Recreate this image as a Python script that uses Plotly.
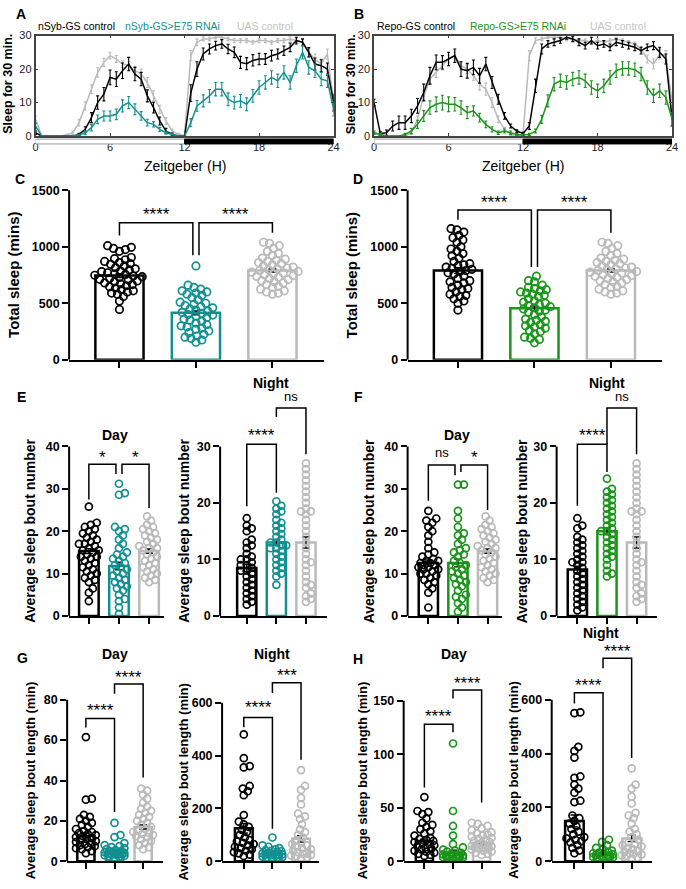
import plotly.graph_objects as go

W, H = 686, 889
FONT = "Liberation Sans, Arial, sans-serif"
C_CTRL = "#000000"
C_NSYB = "#12908f"
C_REPO = "#1a941a"
C_UAS = "#bababa"
C_UAS_TXT = "#c4c4c4"

# ---------------- sleep profiles (30-min bins, ZT 0..24) ----------------
zt_bins = [i * 0.5 for i in range(49)]
zt_ticks = [0, 6, 12, 18, 24]

A_ctrl = [1, 0, 0, 0, 0, 0, 0, 0.5, 2, 5.5, 10, 12.5, 17.5, 17, 19.5, 21.5, 18.5, 17, 12, 8.5, 4.5, 1.5, 0.5, 0, 0,
          12.8, 20, 24.5, 26, 27, 27.5, 26, 25, 22, 21.6, 22.6, 23, 23, 24, 24.5, 25.5, 26.5, 28.5, 28, 25, 21.5, 21, 20, 10]
A_rnai = [3, 0, 0, 0, 0, 0, 0, 0.3, 1, 2.5, 5, 6, 6, 6.5, 9, 10, 8, 6, 4, 3.5, 2, 1, 0.5, 0, 0,
          4, 9, 10.5, 12, 14, 14, 11, 10, 10.5, 9.5, 12, 14.5, 16, 17.5, 16.5, 19, 16, 21, 25, 20.5, 19.5, 17, 16.5, 8]
A_uas = [5, 0, 0, 0, 0, 0.3, 1, 4, 9, 14, 19, 22, 24, 23, 21.5, 21, 19.5, 18.5, 16, 12, 8, 4.5, 1.5, 0.5, 0.2,
         24, 28, 29, 29, 29.5, 29.5, 29, 28.5, 28.5, 28.5, 28, 28.5, 28.5, 28, 28.5, 28.5, 29, 28.5, 28, 25, 23, 21.5, 24.5, 10]
semA_ctrl = [0.5, 0, 0, 0, 0, 0, 0, 0.3, 0.8, 1.5, 2.0, 2.0, 2.2, 2.2, 2.3, 2.0, 2.0, 2.0, 1.8, 1.6, 1.2, 0.8, 0.4, 0, 0,
             2.5, 2.2, 1.8, 1.5, 1.3, 1.3, 1.4, 1.6, 1.8, 1.8, 1.7, 1.7, 1.6, 1.6, 1.5, 1.4, 1.3, 1.0, 1.0, 1.4, 1.8, 1.8, 1.8, 2.5]
semA_rnai = [0.8, 0, 0, 0, 0, 0, 0, 0.2, 0.6, 1.0, 1.3, 1.5, 1.5, 1.6, 1.8, 1.8, 1.6, 1.3, 1.0, 0.8, 0.6, 0.4, 0.2, 0, 0,
             1.2, 1.6, 1.8, 1.9, 2.0, 2.0, 1.9, 1.9, 1.9, 1.9, 1.9, 2.0, 2.0, 2.0, 2.0, 2.0, 2.0, 2.0, 2.0, 2.0, 2.0, 2.0, 2.0, 2.0]
semA_uas = [1.0, 0, 0, 0, 0, 0.2, 0.5, 1.0, 1.2, 1.3, 1.4, 1.2, 1.0, 1.0, 1.0, 1.2, 1.3, 1.5, 1.5, 1.5, 1.2, 1.0, 0.6, 0.3, 0.1,
            1.5, 1.0, 0.6, 0.5, 0.5, 0.5, 0.5, 0.6, 0.6, 0.6, 0.6, 0.6, 0.6, 0.6, 0.6, 0.6, 0.6, 0.6, 0.8, 1.2, 1.5, 1.5, 1.5, 2.0]

B_ctrl = [10, 0.8, 1, 3, 4, 4, 6, 9, 13, 18, 22, 22, 23, 24, 20, 19.5, 20.5, 18, 21.5, 16, 11, 6, 3, 1.5, 0.8,
          3, 15, 26, 27.5, 28, 28.5, 29.5, 29, 28, 27, 28.5, 27, 27.5, 26.5, 28, 27.5, 27, 26.5, 25.5, 26.5, 27, 25, 23, 5]
B_rnai = [1, 0.5, 0, 0, 0, 0.5, 1.5, 3.5, 6, 8.5, 9.5, 10, 9.5, 9.5, 8.5, 7, 7.5, 5.5, 3.5, 2, 1, 1.5, 1, 0.5, 0.3,
          0.5, 1.5, 5, 10.5, 15.5, 16.5, 16, 17, 17.5, 16.5, 14.5, 13.5, 15, 17.5, 19.5, 20.2, 20.2, 19.8, 18.5, 14.5, 12, 13.5, 11.5, 5]
B_uas = [1, 0, 0, 0, 0, 0, 1, 5, 12, 17, 19, 21, 23, 24, 21, 20, 18, 15.5, 14, 10, 5, 2, 0.5, 0, 0.5,
         24, 28.5, 29, 29.5, 29.5, 29.5, 29, 29, 28.5, 28.5, 28, 28.5, 28, 28.5, 29, 28.5, 28, 27.5, 26, 23, 21.5, 24.5, 24, 10]
semB_ctrl = [1.0, 0.5, 0.8, 1.5, 2.0, 2.0, 2.0, 2.2, 2.5, 2.5, 2.2, 2.0, 2.0, 2.0, 2.2, 2.2, 2.2, 2.2, 2.0, 1.8, 1.5, 1.0, 0.6, 0.4, 0.3,
             1.0, 2.0, 1.5, 1.0, 1.0, 0.8, 0.6, 0.8, 1.0, 1.0, 1.0, 1.0, 1.0, 1.0, 1.0, 1.0, 1.0, 1.0, 1.0, 1.0, 1.2, 1.5, 1.5, 2.0]
semB_rnai = [0.5, 0.3, 0, 0, 0, 0.3, 0.8, 1.2, 1.6, 2.0, 2.2, 2.2, 2.2, 2.0, 2.0, 1.8, 1.5, 1.3, 1.0, 0.8, 0.5, 0.6, 0.5, 0.3, 0.2,
             0.3, 0.6, 1.2, 1.8, 2.0, 2.0, 2.0, 2.0, 2.0, 2.0, 2.0, 2.0, 2.0, 2.0, 2.0, 2.0, 2.0, 2.0, 2.0, 2.0, 2.0, 2.0, 2.0, 2.0]
semB_uas = [0.5, 0, 0, 0, 0, 0, 0.5, 1.0, 1.3, 1.5, 1.5, 1.3, 1.2, 1.0, 1.2, 1.3, 1.5, 1.8, 1.8, 1.5, 1.0, 0.6, 0.3, 0, 0.2,
            1.5, 0.8, 0.5, 0.4, 0.4, 0.4, 0.5, 0.5, 0.5, 0.5, 0.5, 0.5, 0.5, 0.5, 0.5, 0.5, 0.5, 0.6, 0.8, 1.2, 1.5, 1.5, 1.5, 2.0]

# ---------------- per-fly values ----------------
groups = ["control", "E75 RNAi", "UAS control"]

tot_nsyb_ctrl = [1010, 995, 985, 975, 960, 905, 895, 885, 870, 860, 850, 845, 830, 815, 805, 795, 785, 780, 770, 760, 755, 748,
                 742, 735, 728, 720, 712, 705, 698, 690, 680, 672, 665, 655, 645, 635, 620, 610, 600, 590, 580, 560, 520, 445]
tot_nsyb_rnai = [830, 660, 640, 625, 610, 600, 590, 580, 570, 550, 530, 510, 500, 490, 480, 470, 460, 450, 440, 430, 420, 410,
                 400, 395, 385, 375, 360, 350, 340, 325, 310, 300, 290, 280, 270, 255, 240, 225, 210, 200, 190, 175, 155]
tot_uas = [1040, 1030, 1010, 985, 960, 940, 925, 900, 890, 880, 870, 860, 850, 840, 830, 820, 812, 805, 798, 790, 782,
           775, 768, 760, 752, 745, 738, 730, 720, 710, 700, 690, 680, 665, 650, 640, 625, 610, 600, 590, 580]
tot_repo_ctrl = [1160, 1150, 1130, 1100, 1080, 1060, 1040, 1000, 980, 960, 940, 920, 900, 870, 850, 840, 830, 820, 810, 800,
                 790, 780, 770, 760, 740, 720, 700, 690, 680, 660, 640, 630, 620, 600, 580, 570, 560, 540, 520, 500, 440]
tot_repo_rnai = [740, 700, 690, 660, 640, 630, 620, 610, 600, 590, 580, 570, 560, 540, 520, 510, 500, 490, 480, 470, 460,
                 450, 440, 430, 420, 400, 380, 360, 350, 340, 330, 310, 300, 290, 280, 260, 250, 230, 200, 190, 180, 150]

daynum_nsyb_ctrl = [25.8, 22, 21.5, 21, 20.5, 20, 19.5, 19, 18.5, 18, 17.5, 17, 17, 16.5, 16, 15.5, 15.5, 15, 14.5, 14, 14,
                    13.5, 13, 12.5, 12, 11.5, 11, 10.5, 10, 9.5, 9, 8.5, 8, 6.5, 5.5, 3.5]
daynum_nsyb_rnai = [31.2, 29, 28.6, 21, 20.5, 20, 19, 18, 17, 16, 15, 14.5, 14, 13.5, 13, 12.5, 12, 11.5, 11, 10.5, 10,
                    9.5, 9, 8.5, 8, 7.5, 7, 6.5, 6, 5, 4, 3.5, 2, 0.5]
daynum_uas = [23.5, 22.5, 21.5, 21, 20.5, 20, 19.5, 19, 18.5, 18, 17.5, 17, 16.5, 16, 16, 15.5, 15, 14.5, 14, 13.5, 13,
              12.5, 12, 11.5, 11, 10.5, 10, 9.5, 9, 8.5, 8]
daynum_repo_ctrl = [24.8, 23, 22.5, 22, 21, 20, 19, 17.5, 16, 15, 14.5, 14, 13.5, 13, 13, 12.5, 12.5, 12, 12, 11.5, 11.5,
                    11, 11, 10.5, 10, 10, 9.5, 9, 8.5, 8, 7.5, 6.5, 5.5, 2]
daynum_repo_rnai = [31, 31, 24.8, 23, 21, 19.5, 19, 18, 17, 16, 15.5, 15, 14.5, 14, 13, 12.5, 12, 11.5, 11, 10.5, 10,
                    9.5, 9, 8.5, 8, 7.5, 7, 6, 5, 4.5, 4, 3, 2, 1]

nightnum_nsyb_ctrl = [17.3, 16, 15.5, 15, 13.5, 13, 12.5, 12, 11, 10.5, 10, 10, 9.5, 9, 9, 8.5, 8, 8, 7.5, 7, 6.5, 6,
                      5.5, 5, 4.5, 4, 3.5, 3, 2.5, 2]
nightnum_nsyb_rnai = [20.3, 19.5, 19, 18.5, 18, 17, 16.5, 16, 15.5, 15, 14.5, 14, 13.5, 13, 13, 12.5, 12.5, 12, 12, 11.5,
                      11, 10.5, 10, 9.5, 9, 8.5, 8, 7.5, 7, 5.5]
nightnum_uas = [27, 26, 25, 24, 23, 22, 21, 20, 19, 18.5, 18.5, 18, 17, 16, 15, 14, 13, 12, 11, 10, 9.5, 9, 8, 7, 6,
                5.5, 5, 4, 3.5, 3, 2.5]
nightnum_repo_ctrl = [17.3, 16, 15.5, 14, 13.5, 13, 12.5, 12, 11.5, 11, 10.5, 10, 9.5, 9.5, 9, 8.5, 8, 7.5, 7, 6.5, 6,
                      5.5, 5, 4.5, 4, 3.5, 3, 2.5, 2, 1.5, 1]
nightnum_repo_rnai = [24.3, 22.5, 22, 21.5, 21, 20.5, 20, 19.5, 19, 18.5, 18, 17.5, 17, 16.5, 16, 15.5, 15, 15, 14.5, 14,
                      13.5, 13, 12.5, 12, 11.5, 11, 10.5, 10, 9, 8, 7.5, 7]

daylen_nsyb_ctrl = [61.5, 31, 30.5, 23, 22, 21, 20, 19, 18, 17, 16, 15, 14.5, 14, 13.5, 13, 12.5, 12, 11.5, 11, 10.5, 10,
                    9.5, 9, 8.5, 8, 7.5, 7, 6.5, 6, 5, 4]
daylen_nsyb_rnai = [19, 13, 12, 9, 8, 7.5, 7, 6.5, 6, 5.5, 5, 5, 4.5, 4.5, 4.2, 4, 4, 3.8, 3.5, 3.5, 3.3, 3, 3, 2.8, 2.5,
                    2.5, 2]
daylen_uas = [36, 35, 33, 31, 29, 27, 26, 25, 24, 23, 22, 21, 20, 19, 18, 17, 16, 15, 14.5, 14, 13.5, 13, 12.5, 12, 11,
              10, 9, 8, 7, 6]
daylen_repo_ctrl = [60, 47, 46, 44, 40, 36, 34, 32, 30, 28, 26, 24, 22, 21, 20, 19, 18, 17, 16, 15, 14, 13, 12, 11, 10,
                    9, 8, 7, 6, 5]
daylen_repo_rnai = [110, 47, 33, 24, 16, 13, 11, 10, 9, 8, 7, 6.5, 6, 5.5, 5.2, 5, 4.8, 4.5, 4, 3.8, 3.5, 3, 2.5, 2]

nightlen_nsyb_ctrl = [480, 390, 360, 355, 285, 275, 265, 250, 175, 150, 140, 130, 120, 110, 100, 90, 80, 75, 70, 65, 60,
                      55, 50, 45, 40, 35, 30, 25, 20]
nightlen_nsyb_rnai = [90, 60, 55, 50, 45, 42, 40, 38, 35, 33, 30, 28, 26, 25, 24, 22, 20, 18, 16, 14, 12, 10]
nightlen_uas = [345, 285, 270, 240, 215, 180, 170, 160, 140, 120, 110, 100, 90, 80, 70, 65, 60, 55, 50, 45, 40, 35, 30,
                28, 25, 22, 20, 15, 10]
nightlen_repo_ctrl = [553, 550, 425, 410, 385, 315, 310, 285, 270, 255, 225, 220, 170, 160, 150, 140, 130, 120, 110, 100,
                      90, 85, 80, 75, 70, 60, 50, 40, 30]
nightlen_repo_rnai = [80, 72, 60, 50, 45, 40, 35, 32, 30, 28, 26, 24, 22, 20, 18, 16, 14, 12, 10, 8]

# group means and SEM shown as bars
mean_C = [745, 415, 790];   sem_C = [18, 18, 14]
mean_D = [790, 455, 790];   sem_D = [25, 20, 14]
mean_Ed = [15.3, 11.8, 15.3]; sem_Ed = [0.6, 0.9, 0.5]
mean_En = [8.5, 13.0, 13.0];  sem_En = [0.6, 0.5, 1.0]
mean_Fd = [12.5, 12.5, 15.3]; sem_Fd = [0.7, 0.9, 0.5]
mean_Fn = [8.2, 15.0, 13.0];  sem_Fn = [0.6, 0.6, 1.0]
mean_Gd = [12.5, 5.0, 17.0];  sem_Gd = [1.5, 0.5, 1.0]
mean_Gn = [125, 30, 85];      sem_Gn = [18, 3, 12]
mean_Hd = [19, 8, 17];        sem_Hd = [2, 2.5, 1]
mean_Hn = [150, 25, 85];      sem_Hn = [22, 3, 12]

# ---------------- helpers ----------------
fig = go.Figure()
layout = {}
shapes = []
annotations = []


def names(n):
    s = "" if n == 1 else str(n)
    return "xaxis" + s, "yaxis" + s, "x" + s, "y" + s


def ann(text, xpx, ypx, size, color="#000", bold=False, angle=0, xanchor="center", yanchor="middle"):
    annotations.append(dict(text=("<b>%s</b>" % text) if bold else text, x=xpx / W, y=1 - ypx / H,
                            xref="paper", yref="paper", showarrow=False, textangle=angle,
                            font=dict(family=FONT, size=size, color=color), xanchor=xanchor, yanchor=yanchor))


def swarm(values, ppu, sp, diam, maxw):
    order = sorted(range(len(values)), key=lambda i: values[i])
    placed = []
    offs = [0.0] * len(values)
    cands = [0]
    for k in range(1, int(maxw) + 1):
        cands += [k, -k]
    for i in order:
        ypx = values[i] * ppu
        best, bestc, bestd = None, 0, -1
        for c in cands:
            md = min([((c - px) ** 2 + (ypx - py) ** 2) ** 0.5 for px, py in placed] or [1e9])
            if md >= diam:
                best = c
                break
            if md > bestd:
                bestd, bestc = md, c
        if best is None:
            best = bestc
        placed.append((best, ypx))
        offs[i] = best / sp
    return offs


# ---------------- A / B profiles ----------------
profiles = [
    dict(n=1, xL=33, xR=335, label="A", lab=(18, 8), ytx=5,
         series=[(A_uas, semA_uas, C_UAS), (A_ctrl, semA_ctrl, C_CTRL), (A_rnai, semA_rnai, C_NSYB)],
         legend=[("nSyb-GS control", 33, C_CTRL), ("nSyb-GS>E75 RNAi", 122, C_NSYB), ("UAS control", 235, C_UAS_TXT)]),
    dict(n=2, xL=376, xR=678, label="B", lab=(361, 8), ytx=352,
         series=[(B_uas, semB_uas, C_UAS), (B_ctrl, semB_ctrl, C_CTRL), (B_rnai, semB_rnai, C_REPO)],
         legend=[("Repo-GS control", 377, C_CTRL), ("Repo-GS>E75 RNAi", 471, C_REPO), ("UAS control", 593, C_UAS_TXT)]),
]
for p in profiles:
    xa, ya, xt, yt = names(p["n"])
    for vals, sem, col in p["series"]:
        fig.add_trace(go.Scatter(x=zt_bins, y=vals, xaxis=xt, yaxis=yt, mode="lines",
                                 line=dict(color=col, width=1.5),
                                 error_y=dict(type="data", array=sem, color=col, thickness=1.1, width=1.5),
                                 showlegend=False, hoverinfo="skip"))
    layout[xa] = dict(domain=[p["xL"] / W, p["xR"] / W], range=[0, 24], anchor=yt, showline=True, mirror="ticks",
                      linecolor="#444", linewidth=1.5, ticks="inside", ticklen=3, tickcolor="#444",
                      tickvals=zt_ticks, tickfont=dict(size=11, family=FONT, color="#222"),
                      ticklabelstandoff=0, showgrid=False, zeroline=False)
    layout[ya] = dict(domain=[1 - 132 / H, 1 - 30 / H], range=[0, 30], anchor=xt, showline=True, mirror="ticks",
                      linecolor="#444", linewidth=1.5, ticks="inside", ticklen=3, tickcolor="#444",
                      tickvals=[0, 10, 20, 30], tickfont=dict(size=11, family=FONT, color="#222"),
                      showgrid=False, zeroline=False)
    # light / dark bar
    shapes.append(dict(type="rect", xref=xt, yref="paper", x0=0, x1=12, y0=1 - 140 / H, y1=1 - 135 / H,
                       fillcolor="white", line=dict(color="#999", width=1)))
    shapes.append(dict(type="rect", xref=xt, yref="paper", x0=12, x1=24, y0=1 - 140 / H, y1=1 - 135 / H,
                       fillcolor="black", line=dict(color="black", width=1)))
    for txt, xpx, col in p["legend"]:
        ann(txt, xpx, 20, 10.5, color=col, xanchor="left")
    ann("Zeitgeber (H)", (p["xL"] + p["xR"]) / 2, 162, 14)
    ann("Sleep for 30 min.", p["ytx"], 79, 12.5, bold=True, angle=-90)
    ann(p["label"], p["lab"][0], p["lab"][1], 14, bold=True)

# ---------------- bar + scatter panels ----------------
S4 = "****"
panels = [
    dict(n=3, xL=67, c0=118, sp=77.5, xR=325, y0=359, tmax=1500, yT=187, yD=180, ticks=[0, 500, 1000, 1500],
         data=[tot_nsyb_ctrl, tot_nsyb_rnai, tot_uas], means=mean_C, sems=sem_C, cols=[C_CTRL, C_NSYB, C_UAS],
         bw=0.63, ms=7.5, ytitle="Total sleep (mins)", ytx=10, yts=15,
         br=[(0, 0.96, 1212, 1099, 924, S4, 0.48, 1317), (1.04, 2, 1212, 924, 1125, S4, 1.52, 1317)]),
    dict(n=4, xL=410, c0=461, sp=77.5, xR=668, y0=359, tmax=1500, yT=187, yD=180, ticks=[0, 500, 1000, 1500],
         data=[tot_repo_ctrl, tot_repo_rnai, tot_uas], means=mean_D, sems=sem_D, cols=[C_CTRL, C_REPO, C_UAS],
         bw=0.63, ms=7.5, ytitle="Total sleep (mins)", ytx=353, yts=15,
         br=[(0, 0.96, 1325, 1238, 820, S4, 0.48, 1430), (1.04, 2, 1325, 820, 1125, S4, 1.52, 1430)]),
    dict(n=5, xL=67, c0=87, sp=30.5, xR=163, y0=619, tmax=40, yT=447, yD=440, ticks=[0, 10, 20, 30, 40],
         data=[daynum_nsyb_ctrl, daynum_nsyb_rnai, daynum_uas], means=mean_Ed, sems=sem_Ed,
         cols=[C_CTRL, C_NSYB, C_UAS], bw=0.65, ms=7, ytitle="Average sleep bout number", ytx=28, yts=14,
         title=("Day", 113, 435),
         br=[(0, 0.9, 35.8, 27.5, 33.5, "*", 0.45, 38.3), (1.1, 2, 35.8, 33.5, 25.5, "*", 1.55, 38.3)]),
    dict(n=6, xL=220, c0=247, sp=30, xR=328, y0=619, tmax=30, yT=447, yD=380, ticks=[0, 10, 20, 30],
         data=[nightnum_nsyb_ctrl, nightnum_nsyb_rnai, nightnum_uas], means=mean_En, sems=sem_En,
         cols=[C_CTRL, C_NSYB, C_UAS], bw=0.65, ms=7, ytitle="Average sleep bout number", ytx=184, yts=14,
         title=("Night", 272, 383),
         br=[(0, 1, 30.4, 19.4, 21.8, S4, 0.5, 32.6), (1, 2, 36.8, 35.2, 28.6, "ns", 1.5, 38.8)]),
    dict(n=7, xL=410, c0=431, sp=30, xR=506, y0=619, tmax=40, yT=447, yD=440, ticks=[0, 10, 20, 30, 40],
         data=[daynum_repo_ctrl, daynum_repo_rnai, daynum_uas], means=mean_Fd, sems=sem_Fd,
         cols=[C_CTRL, C_REPO, C_UAS], bw=0.65, ms=7, ytitle="Average sleep bout number", ytx=371, yts=14,
         title=("Day", 460, 435),
         br=[(0, 0.9, 35.6, 27.2, 33.2, "ns", 0.45, 38.6), (1.1, 2, 35.6, 34, 25, "*", 1.55, 38.3)]),
    dict(n=8, xL=561, c0=582, sp=30, xR=663, y0=619, tmax=30, yT=447, yD=380, ticks=[0, 10, 20, 30],
         data=[nightnum_repo_ctrl, nightnum_repo_rnai, nightnum_uas], means=mean_Fn, sems=sem_Fn,
         cols=[C_CTRL, C_REPO, C_UAS], bw=0.65, ms=7, ytitle="Average sleep bout number", ytx=526, yts=14,
         title=("Night", 612, 383),
         br=[(0, 1, 30.4, 19.5, 25.5, S4, 0.5, 32.6), (1, 2, 36.8, 30.4, 28.6, "ns", 1.5, 38.8)]),
    dict(n=9, xL=65, c0=84, sp=29, xR=162, y0=868, tmax=80, yT=704, yD=670, ticks=[0, 20, 40, 60, 80],
         data=[daylen_nsyb_ctrl, daylen_nsyb_rnai, daylen_uas], means=mean_Gd, sems=sem_Gd,
         cols=[C_CTRL, C_NSYB, C_UAS], bw=0.6, ms=7, ytitle="Average sleep bout length (min)", ytx=28, yts=13,
         title=("Day", 113, 658),
         br=[(0, 1, 70.7, 66.3, 24.4, S4, 0.5, 76.6), (1, 2, 87.8, 83, 41.5, S4, 1.5, 93.2)]),
    dict(n=10, xL=222, c0=244, sp=29, xR=320, y0=868, tmax=600, yT=707, yD=670, ticks=[0, 200, 400, 600],
         data=[nightlen_nsyb_ctrl, nightlen_nsyb_rnai, nightlen_uas], means=mean_Gn, sems=sem_Gn,
         cols=[C_CTRL, C_NSYB, C_UAS], bw=0.62, ms=7, ytitle="Average sleep bout length (min)", ytx=183, yts=13,
         title=("Night", 273, 658),
         br=[(0, 1, 544, 507, 123, S4, 0.5, 596), (1, 2, 675, 637, 384, "***", 1.5, 716)]),
    dict(n=11, xL=406, c0=427, sp=29, xR=505, y0=868, tmax=150, yT=705, yD=670, ticks=[0, 50, 100, 150],
         data=[daylen_repo_ctrl, daylen_repo_rnai, daylen_uas], means=mean_Hd, sems=sem_Hd,
         cols=[C_CTRL, C_REPO, C_UAS], bw=0.6, ms=7, ytitle="Average sleep bout length (min)", ytx=365, yts=13,
         title=("Day", 457, 658),
         br=[(0, 1, 128, 69, 120.5, S4, 0.5, 139), (1, 2, 160, 152, 55, S4, 1.5, 170)]),
    dict(n=12, xL=556, c0=579, sp=29, xR=658, y0=868, tmax=600, yT=704, yD=640, ticks=[0, 200, 400, 600],
         data=[nightlen_repo_ctrl, nightlen_repo_rnai, nightlen_uas], means=mean_Hn, sems=sem_Hn,
         cols=[C_CTRL, C_REPO, C_UAS], bw=0.65, ms=7, ytitle="Average sleep bout length (min)", ytx=517, yts=13,
         title=("Night", 606, 636),
         br=[(0, 1, 626, 586, 22, S4, 0.5, 666), (1, 2, 754, 717, 384, S4, 1.5, 794)]),
]

for p in panels:
    xa, ya, xt, yt = names(p["n"])
    ppu = (p["y0"] - p["yT"]) / p["tmax"]
    cats = [0, 1, 2]
    fig.add_trace(go.Bar(x=cats, y=p["means"], width=p["bw"], xaxis=xt, yaxis=yt,
                         marker=dict(color="rgba(255,255,255,0)", line=dict(color=p["cols"], width=2.5)),
                         error_y=dict(type="data", array=p["sems"], color="black", thickness=1.3, width=4),
                         showlegend=False, hoverinfo="skip"))
    for gi, (vals, col) in enumerate(zip(p["data"], p["cols"])):
        offs = swarm(vals, ppu, p["sp"], p["ms"] * 0.8, p["sp"] * 0.36)
        fig.add_trace(go.Scatter(x=[gi + o for o in offs], y=vals, xaxis=xt, yaxis=yt, mode="markers",
                                 marker=dict(symbol="circle-open", size=p["ms"], color=col, line=dict(width=1.7)),
                                 cliponaxis=False, showlegend=False, hoverinfo="skip", name=groups[gi]))
    layout[xa] = dict(domain=[p["xL"] / W, p["xR"] / W],
                      range=[(p["xL"] - p["c0"]) / p["sp"], (p["xR"] - p["c0"]) / p["sp"]],
                      anchor=yt, showline=True, linewidth=2, linecolor="black", ticks="outside", ticklen=6,
                      tickwidth=2, tickcolor="black", tickvals=cats, showticklabels=False,
                      showgrid=False, zeroline=False)
    layout[ya] = dict(domain=[1 - p["y0"] / H, 1 - p["yD"] / H], range=[0, (p["y0"] - p["yD"]) / ppu],
                      anchor=xt, showline=False, ticks="outside", ticklen=6, tickwidth=2, tickcolor="black",
                      tickvals=p["ticks"], tickfont=dict(size=12.5, family=FONT, color="black", weight="bold"),
                      showgrid=False, zeroline=False)
    shapes.append(dict(type="line", xref=xt + " domain", yref=yt, x0=0, x1=0, y0=0, y1=p["tmax"],
                       line=dict(color="black", width=2)))
    for x0, x1, ytop, yl, yr, txt, tx, ty in p["br"]:
        shapes.append(dict(type="path", xref=xt, yref=yt,
                           path="M %g,%g L %g,%g L %g,%g L %g,%g" % (x0, yl, x0, ytop, x1, ytop, x1, yr),
                           line=dict(color="black", width=1.5)))
        star = txt.startswith("*")
        annotations.append(dict(text=txt, x=tx, y=ty, xref=xt, yref=yt, showarrow=False,
                                font=dict(family=FONT, size=17 if star else 13, color="black"),
                                xanchor="center", yanchor="middle", yshift=-4 if star else 0))
    ann(p["ytitle"], p["ytx"], (p["y0"] + p["yT"]) / 2, p["yts"], bold=True, angle=-90)
    if "title" in p:
        t, tx, ty = p["title"]
        ann(t, tx, ty, 14, bold=True)

for lab, xpx, ypx in [("C", 17, 176), ("D", 360, 176), ("E", 19, 397), ("F", 360, 397), ("G", 20, 662), ("H", 360, 663)]:
    ann(lab, xpx, ypx, 14, bold=True)

fig.update_layout(width=W, height=H, margin=dict(l=0, r=0, t=0, b=0), paper_bgcolor="white",
                  plot_bgcolor="rgba(0,0,0,0)", showlegend=False, shapes=shapes, annotations=annotations,
                  font=dict(family=FONT), **layout)
fig.write_html("out.html", config={"displayModeBar": False},
               post_script="document.body.style.margin='0px';document.body.style.padding='0px';")
